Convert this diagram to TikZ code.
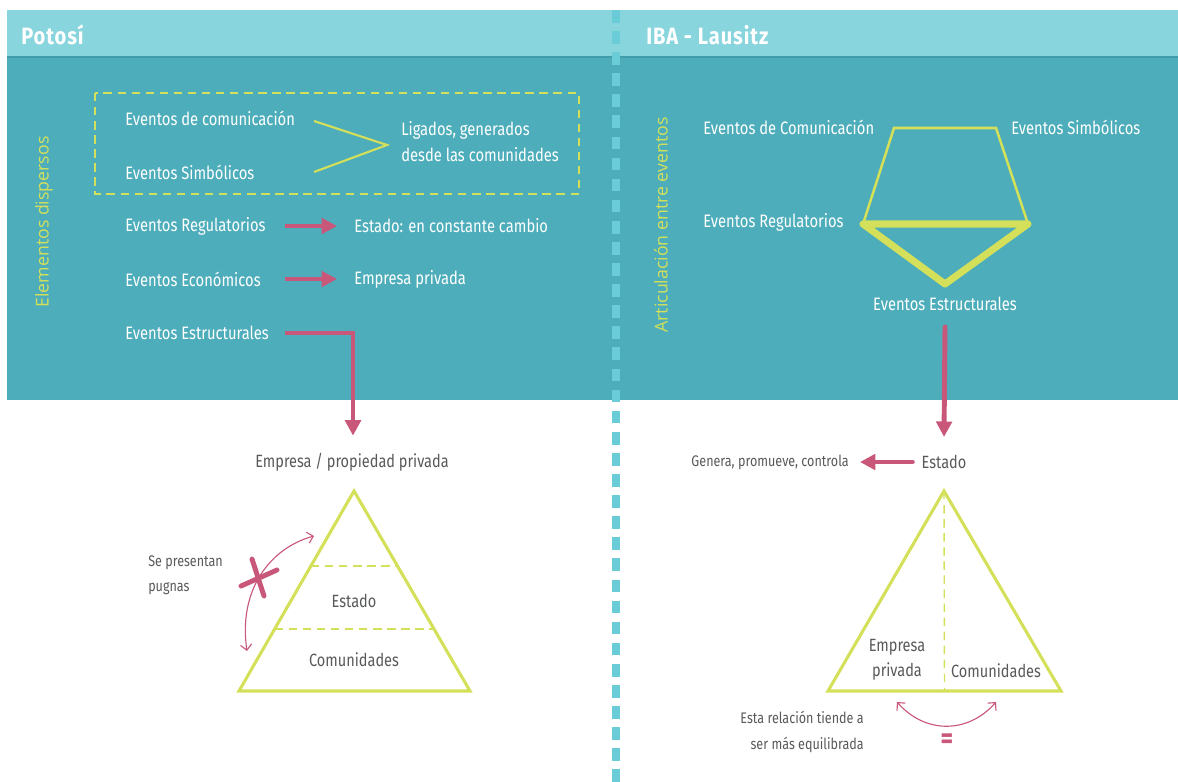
\documentclass[tikz,border=0pt]{standalone}
\usepackage{fontspec}
\setmainfont{Fira Sans}[FakeStretch=0.82]
\newfontfamily\titrefont{Fira Sans}[FakeStretch=0.85,LetterSpace=4]
\newfontfamily\vertfont{Open Sans}
\usetikzlibrary{arrows.meta,calc}

\definecolor{bandeclaire}{HTML}{88D5DD}
\definecolor{bandefonce}{HTML}{4DADBA}
\definecolor{filet}{HTML}{3F9CA8}
\definecolor{pointille}{HTML}{6ACCD7}
\definecolor{jaune}{HTML}{D4E05A}
\definecolor{rose}{HTML}{C8577A}
\definecolor{gristexte}{HTML}{58595B}

\begin{document}
\begin{tikzpicture}[
    x=0.025cm, y=-0.025cm,
    blanc/.style={text=white, font=\fontsize{12.8}{18.5}\selectfont, inner sep=0pt},
    gris/.style={text=gristexte, font=\fontsize{12.6}{17.8}\selectfont, inner sep=0pt},
    petit/.style={text=gristexte, font=\fontsize{10.9}{17.8}\selectfont, inner sep=0pt},
    titre/.style={text=white, font=\titrefont\bfseries\fontsize{16.8}{18}\selectfont, anchor=west, inner sep=0pt},
    vertical/.style={text=jaune, font=\vertfont\fontsize{12.6}{14}\selectfont, rotate=90, inner sep=0pt},
    fleche/.style={rose, line width=3.5pt, line join=miter, -{Triangle[length=11pt,width=11pt]}},
    doublefleche/.style={rose, line width=0.8pt, {Straight Barb[length=4pt,width=8pt]}-{Straight Barb[length=4pt,width=8pt]}},
    pyramide/.style={jaune, line width=2.2pt},
    tirets/.style={jaune, line width=1pt, dash pattern=on 6pt off 4pt}
]
\useasboundingbox (0,0) rectangle (1178,782);

% Bandeaux de fond
\fill[bandeclaire] (7,10) rectangle (1178,57);
\fill[bandefonce] (7,57) rectangle (1178,400);
\draw[filet, line width=0.8pt] (7,57) -- (1178,57);

% Séparation pointillée entre les deux cas
\draw[pointille, line width=5pt, dash pattern=on 9pt off 6pt] (616,10) -- (616,782);

% Titres des bandeaux
\node[titre] (potosi) at (21,35) {Potosí};
\node[titre] (iba) at (646,35) {IBA - Lausitz};

% Potosí : éléments dispersés
\node[vertical] (dispersos) at (44,222) {Elementos dispersos};
\draw[jaune, line width=1.5pt, dash pattern=on 6pt off 4pt] (95,93) rectangle (579,194);
\node[blanc, anchor=west] (comA) at (125,118) {Eventos de comunicación};
\node[blanc, anchor=west] (simA) at (125,172) {Eventos Simbólicos};
\draw[jaune, line width=1.5pt] (314,121) -- (387,145) -- (314,172);
\node[blanc, anchor=west, align=left] (ligados) at (401,142) {Ligados, generados\\desde las comunidades};

\node[blanc, anchor=west] (regA) at (125,226) {Eventos Regulatorios};
\node[blanc, anchor=west] (estadoA) at (354,226) {Estado: en constante cambio};
\node[blanc, anchor=west] (ecoA) at (125,279) {Eventos Económicos};
\node[blanc, anchor=west] (privadaA) at (354,279) {Empresa privada};
\node[blanc, anchor=west] (estrA) at (125,333) {Eventos Estructurales};

\draw[fleche] ($(regA.west)+(160,0)$) -- ($(estadoA.west)+(-17,0)$);
\draw[fleche] ($(ecoA.west)+(160,0)$) -- ($(privadaA.west)+(-17,0)$);

% Potosí : pyramide
\node[gris] (empresaA) at (352,462) {Empresa / propiedad privada};
\draw[fleche] ($(estrA.west)+(160,0)$) -| ($(empresaA.north)+(1,-17)$);

\coordinate (sommetA) at (354,491);
\coordinate (gaucheA) at (239,691);
\coordinate (droiteA) at (470,691);
\draw[pyramide] (sommetA) -- (gaucheA) -- (droiteA) -- cycle;
\draw[tirets] ($(sommetA)!0.375!(gaucheA)$) -- ($(sommetA)!0.375!(droiteA)$);
\draw[tirets] ($(sommetA)!0.69!(gaucheA)$) -- ($(sommetA)!0.69!(droiteA)$);
\node[gris] (estadoB) at (354,601) {Estado};
\node[gris] (comunidadesA) at (354,660) {Comunidades};

\node[petit, anchor=west, align=left] (pugnas) at (148,575) {Se presentan\\pugnas};
\coordinate (pugnaBas) at (247,651);
\coordinate (pugnaHaut) at (314,536);
\draw[doublefleche] (pugnaBas) .. controls (238,590) and (270,548) .. (pugnaHaut);
\draw[rose, line width=3.5pt, line cap=round] (241,586) -- (277,570) (252,559) -- (264,596);

% IBA - Lausitz : articulation
\node[vertical] (articulacion) at (661,225) {Articulación entre eventos};
\node[blanc, anchor=west] (comB) at (703,127) {Eventos de Comunicación};
\node[blanc, anchor=west] (simB) at (1011,127) {Eventos Simbólicos};
\node[blanc, anchor=west] (regB) at (703,222) {Eventos Regulatorios};
\node[blanc] (estrB) at (945,304) {Eventos Estructurales};

\coordinate (hautG) at (894,128);
\coordinate (hautD) at (996,128);
\coordinate (basG) at (863,224);
\coordinate (basD) at (1028,224);
\coordinate (pointe) at (945,284);
\draw[jaune, line width=1.8pt] (basG) -- (hautG) -- (hautD) -- (basD);
\draw[jaune, line width=5pt, line join=round, line cap=round] (basG) -- (basD) -- (pointe) -- cycle;

% IBA - Lausitz : pyramide
\node[gris] (estadoC) at (944,462) {Estado};
\node[petit, anchor=east] (genera) at (849,462) {Genera, promueve, controla};
\draw[fleche, line cap=round] ($(estrB.south)+(0,16)$) -- ($(estadoC.north)+(0,-18)$);
\draw[fleche, line cap=round] ($(estadoC.west)+(-9,0)$) -- ($(genera.east)+(11,0)$);

\coordinate (sommetB) at (944,491);
\coordinate (gaucheB) at (828,691);
\coordinate (droiteB) at (1061,691);
\draw[pyramide] (sommetB) -- (gaucheB) -- (droiteB) -- cycle;
\draw[tirets] (sommetB) -- ($(gaucheB)!0.5!(droiteB)$);
\node[gris, align=center] (empresaB) at (897,660) {Empresa\\privada};
\node[gris] (comunidadesB) at (996,671) {Comunidades};

\coordinate (equiG) at (897,702);
\coordinate (equiD) at (996,702);
\draw[doublefleche] (equiG) .. controls (925,734) and (968,734) .. (equiD);
\node[petit, anchor=east, align=right] (relacion) at (864,732) {Esta relación tiende a\\ser más equilibrada};
\node[text=rose, font=\bfseries\fontsize{21}{21}\selectfont, inner sep=0pt] (igual) at (947,741) {=};

\end{tikzpicture}
\end{document}
